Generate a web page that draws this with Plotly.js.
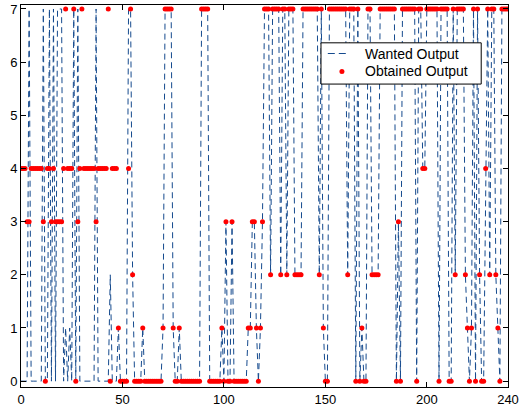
<!DOCTYPE html>
<html>
<head>
<meta charset="utf-8">
<script src="https://cdn.plot.ly/plotly-3.0.1.min.js"></script>
<style>
html,body{margin:0;padding:0;background:#fff;}
#chart{width:519px;height:410px;}
</style>
</head>
<body>
<div id="chart"></div>
<script>
// Sample index 0..240
const wanted = [
 0,0,0,0,7,0,0,0,0,0,
 0,7,0,0,7,0,7,0,7,7,
 7,0,1,0,1,0,7,0,7,0,
 0,0,0,0,0,0,0,7,0,0,
 0,0,0,0,2,0,0,0,1,0,
 0,0,0,7,7,2,0,0,0,0,
 1,0,0,0,0,0,0,0,0,0,
 1,7,7,7,7,1,0,0,1,0,
 0,0,0,0,0,0,0,0,0,7,
 7,7,7,0,0,0,0,0,0,1,
 0,3,0,0,3,0,0,0,0,0,
 0,0,1,1,3,3,1,0,1,3,
 7,7,7,2,7,7,7,7,2,7,
 7,2,7,7,7,2,2,2,2,7,
 7,7,7,7,7,7,7,2,7,1,
 0,0,7,7,7,7,7,7,7,7,
 7,2,7,7,7,0,7,0,1,0,
 0,7,7,2,2,2,2,7,7,7,
 7,7,7,7,7,0,3,0,7,7,
 7,7,7,7,7,0,7,7,4,4,
 7,7,7,7,7,7,0,7,7,7,
 7,0,0,7,2,7,7,7,7,2,
 1,0,1,7,0,7,2,0,0,4,
 7,2,7,7,2,1,0,7,7,7,
 7
];
const obtained = [
 4,4,4,3,3,4,4,4,4,4,
 4,3,0,4,4,3,4,3,3,3,
 3,4,7,4,4,4,7,0,3,4,
 7,4,4,4,4,4,4,3,4,4,
 4,4,4,7,0,4,4,4,1,0,
 0,0,0,4,7,2,0,0,0,0,
 1,0,0,0,0,0,0,0,0,0,
 1,7,7,7,7,1,0,0,1,0,
 0,0,0,0,0,0,0,0,0,7,
 7,7,7,0,0,0,0,0,0,1,
 0,3,0,0,3,0,0,0,0,0,
 0,0,1,1,3,3,1,0,1,3,
 7,7,7,2,7,7,7,7,2,7,
 7,2,7,7,7,2,2,2,2,7,
 7,7,7,7,7,7,7,2,7,1,
 0,0,7,7,7,7,7,7,7,7,
 7,2,7,7,7,0,7,0,1,0,
 0,7,7,2,2,2,2,7,7,7,
 7,7,7,7,7,0,3,0,7,7,
 7,7,7,7,7,0,7,7,4,4,
 7,7,7,7,7,7,0,7,7,7,
 7,0,0,7,2,7,7,7,7,2,
 1,0,1,7,0,7,2,0,0,4,
 7,2,7,7,2,1,0,7,7,7,
 7
];
const seriesNames = ['Wanted Output', 'Obtained Output'];
const xTicks = [0, 50, 100, 150, 200, 240];
const yTicks = [0, 1, 2, 3, 4, 5, 6, 7];

const idx = wanted.map((_, i) => i);
const LINE_COLOR = '#154a8e';
const DOT_COLOR = '#ff0000';
const FONT = 'Liberation Sans, Arial, sans-serif';

const traces = [
  {
    x: idx, y: wanted, type: 'scatter', mode: 'lines', name: seriesNames[0],
    line: {color: LINE_COLOR, width: 1, dash: '6px,4px'}
  },
  {
    x: idx, y: obtained, type: 'scatter', mode: 'markers', name: seriesNames[1],
    marker: {color: DOT_COLOR, size: 5}
  }
];

const axisCommon = {
  showgrid: false, zeroline: false,
  showline: true, linecolor: '#000', linewidth: 1, mirror: 'ticks',
  ticks: 'inside', ticklen: 5, tickcolor: '#000', tickwidth: 1,
  tickfont: {family: FONT, size: 13, color: '#000'}
};

// Legend drawn in paper coordinates (box, samples, labels)
const lg = {x0: 0.616, x1: 0.945, y0: 0.793, y1: 0.901, row1: 0.873, row2: 0.826};

const layout = {
  width: 519, height: 410,
  margin: {l: 21, r: 11, t: 5, b: 23},
  paper_bgcolor: '#fff', plot_bgcolor: '#fff',
  showlegend: false,
  xaxis: Object.assign({}, axisCommon, {range: [0, 240], tickvals: xTicks, ticktext: xTicks.map(String)}),
  yaxis: Object.assign({}, axisCommon, {range: [-0.11, 7.075], tickvals: yTicks, ticktext: yTicks.map(String)}),
  shapes: [
    {type: 'rect', xref: 'paper', yref: 'paper', x0: lg.x0, x1: lg.x1, y0: lg.y0, y1: lg.y1,
     fillcolor: '#fff', line: {color: '#000', width: 1}, layer: 'above'},
    {type: 'line', xref: 'paper', yref: 'paper', x0: 0.630, x1: 0.668, y0: lg.row1, y1: lg.row1,
     line: {color: LINE_COLOR, width: 1, dash: '7px,4px'}, layer: 'above'},
    {type: 'circle', xref: 'paper', yref: 'paper', xsizemode: 'pixel', ysizemode: 'pixel',
     xanchor: 0.659, yanchor: lg.row2, x0: -2.5, x1: 2.5, y0: -2.5, y1: 2.5,
     fillcolor: DOT_COLOR, line: {color: DOT_COLOR, width: 0}, layer: 'above'}
  ],
  annotations: [
    {xref: 'paper', yref: 'paper', x: 0.702, y: lg.row1, xanchor: 'left', yanchor: 'middle',
     text: seriesNames[0], showarrow: false, font: {family: FONT, size: 14, color: '#000'}},
    {xref: 'paper', yref: 'paper', x: 0.702, y: lg.row2, xanchor: 'left', yanchor: 'middle',
     text: seriesNames[1], showarrow: false, font: {family: FONT, size: 14, color: '#000'}}
  ]
};

Plotly.newPlot('chart', traces, layout, {displayModeBar: false, staticPlot: true});
</script>
</body>
</html>
